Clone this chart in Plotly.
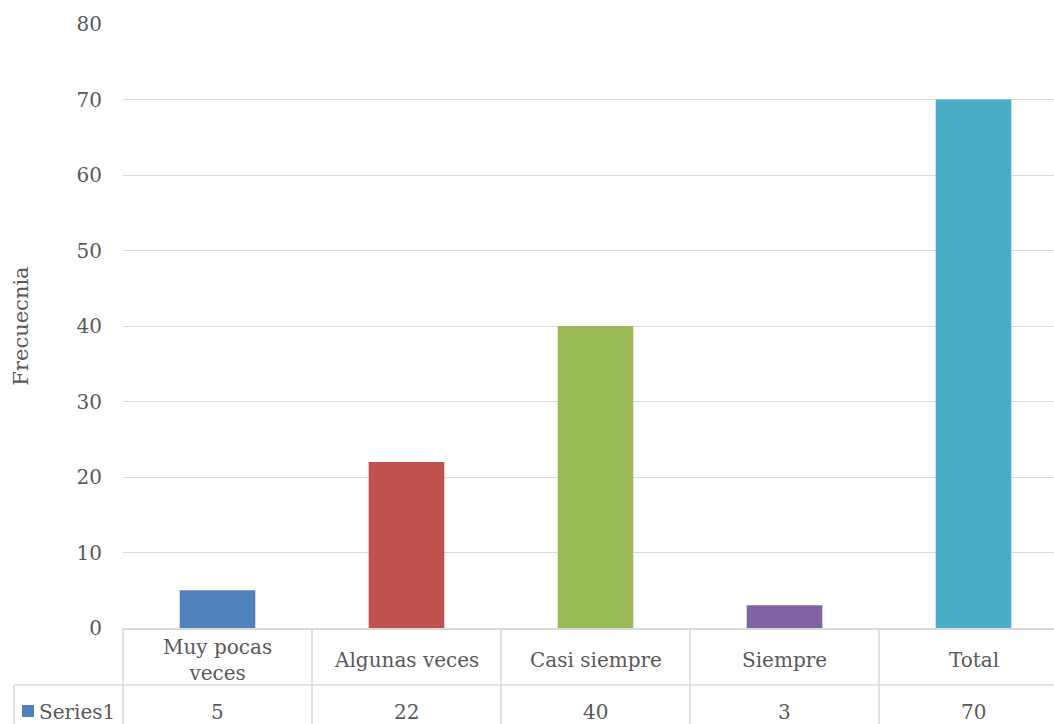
import plotly.graph_objects as go

# Survey response frequencies
categories = ["Muy pocas<br>veces", "Algunas veces", "Casi siempre", "Siempre", "Total"]
values = [5, 22, 40, 3, 70]
colors = ["#4F81BD", "#C0504D", "#9BBB59", "#8064A2", "#4BACC6"]
series_name = "Series1"
y_ticks = [0, 10, 20, 30, 40, 50, 60, 70, 80]

FONT = "DejaVu Serif"
TEXT = "#595959"
GRID = "#D9D9D9"
FS = 20

W, H = 1054, 724
ML, MR, MT, MB = 123, 0, 24, 96
plot_w = W - ML - MR
plot_h = H - MT - MB
cat_w = 189.0  # pixel width of one category slot
x_max = -0.5 + plot_w / cat_w


def py(pixel_y):
    """Paper y for a pixel row measured from the top of the figure."""
    return ((MT + plot_h) - pixel_y) / plot_h


def px(pixel_x):
    """Paper x for a pixel column measured from the left of the figure."""
    return (pixel_x - ML) / plot_w


xs = list(range(len(categories)))

fig = go.Figure()
fig.add_trace(go.Bar(
    x=xs, y=values, marker=dict(color=colors, line=dict(width=0)),
    width=0.4, name=series_name, showlegend=False,
))

# Data table below the axis
shapes = []
line = dict(color=GRID, width=1.5)
shapes.append(dict(type="line", xref="paper", yref="paper",
                   x0=px(14), x1=1, y0=py(685), y1=py(685), line=line))
shapes.append(dict(type="line", xref="paper", yref="paper",
                   x0=px(14), x1=px(14), y0=py(685), y1=py(760), line=line))
for i in range(len(categories) + 1):
    xb = i - 0.5
    if xb > x_max:
        continue
    xp = (xb + 0.5) * cat_w / plot_w
    shapes.append(dict(type="line", xref="paper", yref="paper",
                       x0=xp, x1=xp, y0=0, y1=py(760), line=line))
# legend key square
shapes.append(dict(type="rect", xref="paper", yref="paper",
                   x0=px(22), x1=px(34), y0=py(717), y1=py(705),
                   fillcolor=colors[0], line=dict(width=0)))

annotations = []
for i, (c, v) in enumerate(zip(categories, values)):
    annotations.append(dict(x=i, y=py(660), xref="x", yref="paper",
                            text=c, showarrow=False,
                            font=dict(family=FONT, size=FS, color=TEXT),
                            xanchor="center", yanchor="middle"))
    annotations.append(dict(x=i, y=py(712), xref="x", yref="paper",
                            text=str(v), showarrow=False,
                            font=dict(family=FONT, size=FS, color=TEXT),
                            xanchor="center", yanchor="middle"))
annotations.append(dict(x=px(37), y=py(712), xref="paper", yref="paper",
                        text=series_name, showarrow=False,
                        font=dict(family=FONT, size=FS, color=TEXT),
                        xanchor="left", yanchor="middle"))

fig.update_layout(
    width=W, height=H,
    margin=dict(l=ML, r=MR, t=MT, b=MB, pad=0),
    paper_bgcolor="white", plot_bgcolor="white",
    font=dict(family=FONT, color=TEXT, size=FS),
    xaxis=dict(range=[-0.5, x_max], showticklabels=False, showgrid=False,
               zeroline=False, showline=True, linecolor=GRID, linewidth=1.5,
               ticks="", fixedrange=True),
    yaxis=dict(range=[0, 80], tickvals=y_ticks, showgrid=True, gridcolor=GRID,
               gridwidth=1, zeroline=False, showline=False, ticks="",
               ticklabelstandoff=20,
               tickfont=dict(family=FONT, size=FS, color=TEXT),
               title=dict(text="Frecuecnia", standoff=42,
                          font=dict(family=FONT, size=21, color=TEXT))),
    shapes=shapes,
    annotations=annotations,
    showlegend=False,
)

fig.write_html("out.html")
